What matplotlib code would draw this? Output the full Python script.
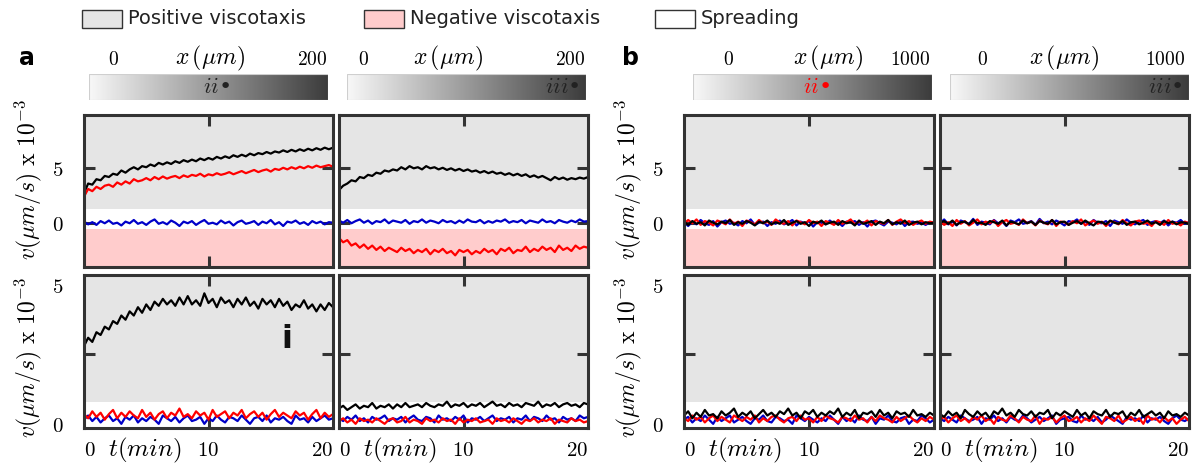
import numpy as np
import matplotlib
matplotlib.use("Agg")
import matplotlib.pyplot as plt
from matplotlib.colors import LinearSegmentedColormap
from matplotlib.patches import Rectangle
from matplotlib.ticker import FixedLocator

plt.rcParams['mathtext.fontset'] = 'cm'

# ---------------- data (velocity x 1e-3 um/s, sampled over 0..20 min) -------------
T_MAX = 20

a_ii_black = [2.7, 3.6, 3.5, 4.0, 3.9, 4.3, 4.2, 4.5, 4.4, 4.8, 4.6, 4.9, 5.1, 4.9, 5.2, 5.1, 5.35, 5.2,
              5.5, 5.35, 5.55, 5.4, 5.65, 5.5, 5.75, 5.6, 5.8, 5.65, 5.9, 5.75, 5.95, 5.8, 6.05, 5.9, 6.1,
              5.95, 6.2, 6.05, 6.25, 6.1, 6.35, 6.2, 6.4, 6.3, 6.5, 6.35, 6.55, 6.45, 6.65, 6.5, 6.7, 6.55,
              6.75, 6.6, 6.8, 6.65, 6.85, 6.7, 6.9, 6.75, 6.9]
a_ii_red = [2.4, 3.1, 2.9, 3.3, 3.1, 3.4, 3.5, 3.3, 3.7, 3.5, 3.8, 3.6, 4.0, 3.8, 3.9, 4.1, 3.9, 4.2, 4.0,
            4.25, 4.05, 4.2, 4.3, 4.1, 4.35, 4.2, 4.4, 4.3, 4.5, 4.25, 4.45, 4.35, 4.55, 4.4, 4.5, 4.65,
            4.45, 4.6, 4.75, 4.55, 4.7, 4.85, 4.65, 4.8, 4.9, 4.7, 4.95, 4.85, 5.05, 4.9, 5.1, 4.95, 5.15,
            5.0, 5.2, 5.05, 5.25, 5.1, 5.2, 5.3, 5.15]
a_ii_blue = [0.1, -0.15, 0.05, -0.2, 0.15, -0.05, 0.2, -0.1, 0.0, -0.25, 0.1, -0.05, 0.25, -0.1, 0.05,
             -0.2, 0.1, 0.3, -0.1, 0.05, -0.15, 0.2, 0.0, -0.3, 0.1, -0.05, 0.15, -0.2, 0.05, 0.25, -0.1,
             0.0, -0.15, 0.2, -0.05, 0.1, -0.25, 0.05, 0.2, -0.1, 0.0, 0.15, -0.2, 0.1, -0.05, 0.25, -0.15,
             0.05, -0.3, 0.1, 0.0, 0.2, -0.1, 0.05, -0.2, 0.15, -0.05, 0.1, -0.15, 0.05, 0.0]

a_iii_black = [3.0, 3.4, 3.6, 3.9, 3.8, 4.2, 4.1, 4.4, 4.3, 4.6, 4.5, 4.8, 4.7, 4.9, 4.8, 5.1, 4.9, 5.2,
               5.0, 5.1, 4.9, 5.2, 5.0, 5.1, 4.9, 5.05, 4.85, 5.0, 4.8, 4.95, 4.75, 4.9, 4.7, 4.8, 4.6,
               4.75, 4.55, 4.7, 4.5, 4.6, 4.4, 4.55, 4.35, 4.5, 4.3, 4.45, 4.2, 4.35, 4.15, 4.3, 4.1, 3.9,
               4.2, 4.0, 4.15, 3.95, 4.1, 4.0, 4.15, 4.05, 4.2]
a_iii_blue = [0.2, 0.0, 0.25, -0.05, 0.15, 0.3, 0.0, 0.2, -0.1, 0.15, 0.05, 0.3, -0.05, 0.2, 0.1, 0.0,
              0.25, -0.1, 0.15, 0.05, 0.3, 0.0, 0.2, 0.1, -0.05, 0.25, 0.05, 0.15, -0.05, 0.2, 0.0, 0.3,
              0.1, 0.05, 0.25, -0.05, 0.15, 0.0, 0.2, 0.1, 0.3, 0.0, 0.15, 0.05, 0.25, -0.05, 0.2, 0.1,
              0.0, 0.3, 0.05, 0.15, -0.05, 0.25, 0.1, 0.0, 0.2, 0.05, 0.3, 0.1, 0.15]
a_iii_red = [-1.4, -1.8, -1.6, -2.1, -1.9, -2.3, -2.0, -2.4, -2.1, -2.5, -2.2, -2.6, -2.3, -2.5, -2.7,
             -2.3, -2.6, -2.4, -2.8, -2.5, -2.7, -2.4, -2.9, -2.5, -2.7, -2.4, -2.8, -2.6, -3.0, -2.5,
             -2.7, -2.5, -2.9, -2.6, -2.8, -2.4, -2.7, -2.5, -2.9, -2.4, -2.6, -2.3, -2.8, -2.5, -2.6,
             -2.2, -2.7, -2.4, -2.6, -2.2, -2.5, -2.3, -2.7, -2.1, -2.5, -2.3, -2.6, -2.1, -2.4, -2.2, -2.3]

a_i_black = [2.8, 3.1, 2.95, 3.3, 3.2, 3.5, 3.4, 3.7, 3.6, 3.9, 3.75, 4.05, 3.9, 4.2, 4.0, 4.3, 4.1, 4.4,
             4.25, 4.5, 4.3, 4.45, 4.25, 4.55, 4.3, 4.6, 4.3, 4.45, 4.25, 4.7, 4.35, 4.5, 4.2, 4.55, 4.35,
             4.45, 4.2, 4.5, 4.3, 4.55, 4.25, 4.4, 4.15, 4.5, 4.3, 4.45, 4.2, 4.5, 4.25, 4.4, 4.1, 4.3,
             4.2, 4.45, 4.15, 4.3, 4.05, 4.3, 4.1, 4.35, 4.2]
a_i_red = [0.35, 0.2, 0.45, 0.25, 0.4, 0.15, 0.35, 0.5, 0.2, 0.4, 0.25, 0.45, 0.3, 0.2, 0.5, 0.25, 0.4,
           0.15, 0.35, 0.45, 0.2, 0.4, 0.3, 0.55, 0.25, 0.35, 0.2, 0.45, 0.3, 0.4, 0.15, 0.5, 0.25, 0.35,
           0.45, 0.2, 0.4, 0.3, 0.5, 0.2, 0.35, 0.45, 0.25, 0.4, 0.15, 0.35, 0.5, 0.25, 0.4, 0.3, 0.2,
           0.45, 0.3, 0.4, 0.15, 0.35, 0.5, 0.2, 0.4, 0.25, 0.35]
a_i_blue = [0.15, 0.3, 0.1, 0.25, 0.05, 0.2, 0.3, 0.1, 0.2, 0.0, 0.25, 0.15, 0.3, 0.05, 0.2, 0.1, 0.25,
            0.15, 0.0, 0.3, 0.2, 0.1, 0.25, 0.05, 0.2, 0.3, 0.1, 0.15, 0.25, 0.0, 0.2, 0.1, 0.3, 0.15,
            0.05, 0.25, 0.2, 0.1, 0.3, 0.15, 0.0, 0.2, 0.25, 0.1, 0.3, 0.05, 0.2, 0.15, 0.25, 0.1, 0.0,
            0.3, 0.15, 0.2, 0.05, 0.25, 0.1, 0.2, 0.3, 0.15, 0.2]

a_iv_black = [0.55, 0.65, 0.5, 0.6, 0.7, 0.55, 0.65, 0.6, 0.75, 0.55, 0.65, 0.6, 0.7, 0.55, 0.7, 0.6,
              0.75, 0.6, 0.65, 0.7, 0.6, 0.75, 0.65, 0.6, 0.7, 0.65, 0.8, 0.6, 0.7, 0.65, 0.75, 0.6, 0.7,
              0.65, 0.75, 0.6, 0.7, 0.8, 0.65, 0.7, 0.6, 0.75, 0.65, 0.7, 0.6, 0.75, 0.7, 0.65, 0.8, 0.6,
              0.7, 0.65, 0.75, 0.6, 0.7, 0.75, 0.65, 0.7, 0.6, 0.75, 0.7]
a_iv_blue = [0.2, 0.1, 0.25, 0.15, 0.3, 0.1, 0.2, 0.05, 0.25, 0.15, 0.2, 0.3, 0.1, 0.2, 0.15, 0.25, 0.05,
             0.2, 0.3, 0.15, 0.1, 0.25, 0.2, 0.05, 0.3, 0.15, 0.2, 0.1, 0.25, 0.15, 0.3, 0.05, 0.2, 0.15,
             0.25, 0.1, 0.2, 0.3, 0.1, 0.2, 0.15, 0.25, 0.05, 0.2, 0.15, 0.3, 0.1, 0.25, 0.2, 0.1, 0.3,
             0.15, 0.2, 0.05, 0.25, 0.15, 0.2, 0.1, 0.3, 0.2, 0.25]
a_iv_red = [0.1, 0.2, 0.05, 0.15, 0.0, 0.2, 0.1, 0.15, 0.05, 0.2, 0.1, 0.0, 0.15, 0.2, 0.05, 0.1, 0.25,
            0.05, 0.15, 0.1, 0.0, 0.2, 0.1, 0.15, 0.05, 0.2, 0.1, 0.15, 0.0, 0.2, 0.05, 0.15, 0.1, 0.2,
            0.05, 0.1, 0.15, 0.0, 0.2, 0.1, 0.15, 0.05, 0.2, 0.1, 0.0, 0.15, 0.1, 0.2, 0.05, 0.15, 0.1,
            0.2, 0.0, 0.15, 0.1, 0.05, 0.2, 0.1, 0.15, 0.05, 0.1]

b_ii_top_black = [0.1, -0.2, 0.15, -0.1, 0.05, -0.25, 0.2, 0.0, -0.15, 0.1, -0.05, 0.25, -0.2, 0.05,
                  -0.1, 0.15, 0.0, -0.25, 0.1, -0.05, 0.2, -0.15, 0.05, -0.1, 0.25, -0.2, 0.0, 0.15, -0.1,
                  0.05, -0.3, 0.1, -0.05, 0.2, -0.15, 0.0, 0.1, -0.2, 0.15, -0.05, 0.05, -0.25, 0.2, -0.1,
                  0.0, 0.15, -0.2, 0.1, -0.05, 0.25, -0.15, 0.05, -0.1, 0.2, -0.2, 0.0, 0.1, -0.15, 0.05,
                  -0.05, 0.0]
b_ii_top_red = [-0.1, 0.25, -0.05, 0.3, -0.2, 0.15, 0.0, -0.25, 0.2, 0.05, -0.15, 0.3, -0.1, 0.1, -0.3,
                0.2, 0.05, -0.15, 0.25, -0.05, 0.1, -0.2, 0.3, 0.0, -0.1, 0.15, -0.25, 0.2, 0.05, -0.15,
                0.25, -0.05, 0.1, -0.3, 0.15, 0.0, -0.2, 0.25, -0.1, 0.05, 0.3, -0.15, 0.1, -0.05, 0.2,
                -0.25, 0.15, 0.0, -0.1, 0.25, -0.2, 0.1, 0.3, -0.05, 0.15, -0.2, 0.05, 0.2, -0.1, 0.1, 0.0]
b_ii_top_blue = [0.05, -0.3, 0.1, -0.15, 0.25, -0.05, -0.2, 0.15, -0.35, 0.05, 0.2, -0.1, 0.0, -0.25,
                 0.15, -0.05, 0.3, -0.2, 0.0, 0.1, -0.3, 0.05, -0.1, 0.2, -0.15, 0.0, 0.25, -0.25, 0.1,
                 -0.05, 0.15, -0.35, 0.05, 0.0, -0.15, 0.2, -0.1, 0.05, -0.3, 0.1, 0.0, 0.15, -0.2, 0.05,
                 -0.35, 0.1, 0.2, -0.05, -0.25, 0.1, 0.0, -0.15, 0.15, -0.3, 0.05, 0.1, -0.1, 0.0, -0.2,
                 0.05, -0.05]

b_iii_top_black = [0.0, 0.15, -0.1, 0.2, -0.2, 0.05, 0.1, -0.15, 0.25, -0.05, 0.0, -0.2, 0.15, 0.05,
                   -0.1, 0.2, -0.25, 0.1, 0.0, -0.15, 0.2, -0.05, 0.1, -0.2, 0.15, 0.0, -0.1, 0.25, -0.15,
                   0.05, 0.1, -0.2, 0.0, 0.15, -0.1, 0.2, -0.05, -0.25, 0.1, 0.05, -0.15, 0.2, 0.0, -0.1,
                   0.15, -0.2, 0.05, 0.1, -0.15, 0.0, 0.2, -0.1, 0.05, -0.2, 0.15, -0.05, 0.1, -0.15, 0.05,
                   0.0, -0.1]
b_iii_top_red = [0.2, -0.2, 0.05, -0.3, 0.25, -0.1, 0.15, -0.25, 0.0, 0.3, -0.15, 0.1, -0.05, 0.2, -0.3,
                 0.05, 0.25, -0.1, 0.0, -0.2, 0.3, -0.05, 0.1, -0.25, 0.2, 0.0, -0.15, 0.25, -0.3, 0.1,
                 0.05, -0.2, 0.15, -0.05, 0.3, -0.25, 0.0, 0.2, -0.1, 0.1, -0.3, 0.15, 0.05, -0.15, 0.25,
                 -0.05, -0.25, 0.1, 0.2, -0.1, 0.0, -0.3, 0.15, 0.05, -0.2, 0.25, -0.1, 0.0, -0.25, 0.1,
                 -0.05]
b_iii_top_blue = [-0.05, 0.3, -0.15, 0.1, -0.25, 0.2, 0.05, -0.1, 0.35, -0.2, 0.1, 0.0, -0.15, 0.25,
                  -0.05, 0.1, -0.3, 0.2, 0.05, 0.3, -0.1, 0.0, 0.15, -0.2, 0.35, -0.05, 0.1, -0.15, 0.2,
                  0.0, -0.25, 0.15, 0.05, 0.3, -0.1, 0.1, -0.2, 0.25, 0.0, -0.05, 0.15, -0.3, 0.2, 0.05,
                  -0.1, 0.3, 0.0, -0.15, 0.1, 0.25, -0.2, 0.05, 0.15, -0.05, 0.2, -0.25, 0.1, 0.0, 0.25,
                  -0.1, 0.05]

b_ii_bot_black = [0.3, 0.45, 0.2, 0.4, 0.25, 0.5, 0.3, 0.35, 0.2, 0.45, 0.3, 0.4, 0.55, 0.25, 0.4, 0.3,
                  0.45, 0.2, 0.35, 0.5, 0.3, 0.4, 0.25, 0.45, 0.35, 0.55, 0.3, 0.4, 0.2, 0.45, 0.35, 0.5,
                  0.25, 0.4, 0.3, 0.45, 0.35, 0.55, 0.25, 0.4, 0.3, 0.5, 0.2, 0.4, 0.35, 0.45, 0.25, 0.5,
                  0.3, 0.4, 0.2, 0.45, 0.35, 0.4, 0.25, 0.5, 0.3, 0.35, 0.25, 0.4, 0.3]
b_ii_bot_red = [0.2, 0.1, 0.3, 0.15, 0.25, 0.05, 0.2, 0.3, 0.1, 0.25, 0.15, 0.05, 0.3, 0.2, 0.1, 0.25,
                0.15, 0.3, 0.05, 0.2, 0.1, 0.25, 0.3, 0.15, 0.05, 0.2, 0.25, 0.1, 0.3, 0.15, 0.2, 0.05,
                0.25, 0.1, 0.3, 0.2, 0.15, 0.05, 0.25, 0.2, 0.1, 0.3, 0.15, 0.2, 0.05, 0.25, 0.1, 0.3, 0.2,
                0.15, 0.05, 0.25, 0.1, 0.2, 0.3, 0.15, 0.05, 0.2, 0.1, 0.25, 0.15]
b_ii_bot_blue = [0.15, 0.25, 0.05, 0.2, 0.1, 0.3, 0.15, 0.0, 0.25, 0.1, 0.2, 0.3, 0.05, 0.15, 0.25, 0.1,
                 0.0, 0.2, 0.15, 0.3, 0.1, 0.05, 0.25, 0.2, 0.1, 0.15, 0.0, 0.3, 0.2, 0.1, 0.25, 0.15,
                 0.05, 0.2, 0.1, 0.3, 0.15, 0.0, 0.25, 0.1, 0.2, 0.05, 0.3, 0.15, 0.1, 0.25, 0.0, 0.2,
                 0.15, 0.3, 0.1, 0.05, 0.2, 0.25, 0.0, 0.15, 0.1, 0.3, 0.2, 0.05, 0.15]

b_iii_bot_black = [0.35, 0.25, 0.45, 0.3, 0.4, 0.2, 0.5, 0.35, 0.25, 0.45, 0.3, 0.4, 0.2, 0.45, 0.35,
                   0.55, 0.3, 0.4, 0.25, 0.5, 0.35, 0.3, 0.45, 0.25, 0.4, 0.35, 0.5, 0.2, 0.4, 0.3, 0.45,
                   0.35, 0.25, 0.5, 0.3, 0.4, 0.2, 0.45, 0.35, 0.3, 0.5, 0.25, 0.4, 0.35, 0.45, 0.2, 0.4,
                   0.3, 0.5, 0.25, 0.35, 0.45, 0.3, 0.4, 0.2, 0.45, 0.3, 0.35, 0.25, 0.4, 0.3]
b_iii_bot_red = [0.15, 0.25, 0.05, 0.2, 0.3, 0.1, 0.2, 0.05, 0.25, 0.15, 0.3, 0.1, 0.2, 0.0, 0.25, 0.15,
                 0.1, 0.3, 0.2, 0.05, 0.25, 0.15, 0.1, 0.3, 0.0, 0.2, 0.15, 0.25, 0.05, 0.2, 0.3, 0.1,
                 0.15, 0.25, 0.05, 0.2, 0.1, 0.3, 0.15, 0.0, 0.25, 0.2, 0.1, 0.3, 0.05, 0.15, 0.25, 0.1,
                 0.2, 0.0, 0.3, 0.15, 0.2, 0.05, 0.25, 0.1, 0.2, 0.0, 0.15, 0.25, 0.1]
b_iii_bot_blue = [0.2, 0.1, 0.25, 0.15, 0.05, 0.3, 0.2, 0.1, 0.15, 0.25, 0.0, 0.2, 0.15, 0.3, 0.1, 0.2,
                  0.05, 0.25, 0.15, 0.1, 0.3, 0.2, 0.05, 0.15, 0.25, 0.1, 0.2, 0.3, 0.0, 0.15, 0.2, 0.25,
                  0.1, 0.05, 0.3, 0.15, 0.2, 0.1, 0.25, 0.05, 0.15, 0.3, 0.2, 0.1, 0.0, 0.25, 0.15, 0.2,
                  0.1, 0.3, 0.05, 0.2, 0.15, 0.25, 0.1, 0.0, 0.2, 0.3, 0.15, 0.1, 0.2]

legend_labels = ["Positive viscotaxis", "Negative viscotaxis", "Spreading"]
bar_ranges = ["200", "200", "1000", "1000"]
bar_markers = [r"$ii$•", r"$iii$•", r"$ii$•", r"$iii$•"]

# ---------------- style ----------------
RED, BLUE, BLACK = "#ff0000", "#0000c8", "#000000"
GRAY_BG, PINK_BG = "#e5e5e5", "#ffcccc"
SPINE = "#333333"

W, H = 1197, 466
fig = plt.figure(figsize=(W / 100, H / 100), dpi=100)


def add_px_axes(x0, y0, x1, y1):
    return fig.add_axes([x0 / W, 1 - y1 / H, (x1 - x0) / W, (y1 - y0) / H])


def ftext(x, y, s, **kw):
    fig.text(x / W, 1 - y / H, s, **kw)


ROWS = {
    "top": dict(y0=115, y1=267, ylim=(-4.07, 9.9), gray=1.25, pink=-0.6),
    "bot": dict(y0=275, y1=428, ylim=(-0.15, 5.36), gray=0.77, pink=None),
}
COLS = [(84, 333), (339, 588), (684, 934), (940, 1189)]

panels = [
    (0, "top", [(a_ii_black, BLACK), (a_ii_red, RED), (a_ii_blue, BLUE)]),
    (1, "top", [(a_iii_black, BLACK), (a_iii_blue, BLUE), (a_iii_red, RED)]),
    (0, "bot", [(a_i_black, BLACK), (a_i_blue, BLUE), (a_i_red, RED)]),
    (1, "bot", [(a_iv_black, BLACK), (a_iv_blue, BLUE), (a_iv_red, RED)]),
    (2, "top", [(b_ii_top_blue, BLUE), (b_ii_top_red, RED), (b_ii_top_black, BLACK)]),
    (3, "top", [(b_iii_top_blue, BLUE), (b_iii_top_red, RED), (b_iii_top_black, BLACK)]),
    (2, "bot", [(b_ii_bot_blue, BLUE), (b_ii_bot_red, RED), (b_ii_bot_black, BLACK)]),
    (3, "bot", [(b_iii_bot_blue, BLUE), (b_iii_bot_red, RED), (b_iii_bot_black, BLACK)]),
]

for ci, row, series in panels:
    x0, x1 = COLS[ci]
    r = ROWS[row]
    ax = add_px_axes(x0, r["y0"], x1, r["y1"])
    ax.set_xlim(0, T_MAX)
    ax.set_ylim(*r["ylim"])
    ax.axhspan(r["gray"], r["ylim"][1] + 5, color=GRAY_BG, lw=0, zorder=0)
    if r["pink"] is not None:
        ax.axhspan(r["ylim"][0] - 5, r["pink"], color=PINK_BG, lw=0, zorder=0)
    for vals, col in series:
        t = np.linspace(0, T_MAX, len(vals))
        ax.plot(t, vals, color=col, lw=1.6, zorder=2)
    for sp in ax.spines.values():
        sp.set_color(SPINE)
        sp.set_linewidth(2.2)
        sp.set_zorder(5)
    ax.set_xticks([10])
    ax.set_xticklabels([])
    if row == "top":
        ax.set_yticks([0, 5])
        ax.tick_params(axis="y", length=8)
    else:
        ax.set_yticks([0, 5])
        ax.yaxis.set_minor_locator(FixedLocator([2.5]))
        ax.tick_params(axis="y", which="major", length=0)
        ax.tick_params(axis="y", which="minor", length=8, width=2.2, color=SPINE,
                       direction="in", left=True, right=True)
    ax.set_yticklabels(["$0$", "$5$"])
    ax.tick_params(axis="both", which="major", direction="in", width=2.2, color=SPINE,
                   top=True, right=True, labelsize=15, pad=15)
    ax.tick_params(axis="x", length=8)
    if ci in (1, 3):
        ax.set_yticklabels([])
    if row == "bot":
        yb = 450
        ftext(x0 + 6, yb, "$0$", fontsize=15, ha="center", va="center")
        ftext(x0 + 61, yb, "$t(min)$", fontsize=18, ha="center", va="center")
        ftext((x0 + x1) / 2, yb, "$10$", fontsize=15, ha="center", va="center")
        ftext(x1 - 11, yb, "$20$", fontsize=15, ha="center", va="center")
    if ci == 0 and row == "bot":
        ax.text(16.3, 3.05, "i", fontsize=23, fontweight="bold", ha="center", va="center",
                family="DejaVu Sans", color="#111111", zorder=6)

# y labels
ylab = r"$v(\mu m/s)\ \mathrm{x}\ 10^{-3}$"
for xc in (28, 628):
    ftext(xc, 180, ylab, fontsize=17, rotation=90, ha="center", va="center")
    ftext(xc, 358, ylab, fontsize=17, rotation=90, ha="center", va="center")

# gradient bars
cmap = LinearSegmentedColormap.from_list("grad", ["#f8f8f8", "#3c3c3c"])
grad = np.linspace(0, 1, 256)[None, :]
bars = [(89, 328), (347, 586), (693, 932), (950, 1189)]
zero_x = [113, 363, 728, 982]
mid_x = [210, 448, 828, 1064]
end_x = [312, 570, 910, 1165]
mark_x = [217, 562, 817, 1165]
mark_col = ["#222222", "#222222", RED, "#222222"]
for i, (bx0, bx1) in enumerate(bars):
    bax = add_px_axes(bx0, 74, bx1, 100)
    bax.imshow(grad, aspect="auto", cmap=cmap, extent=[0, 1, 0, 1])
    bax.set_axis_off()
    bax.add_patch(Rectangle((0, 0), 1, 1, transform=bax.transAxes, fill=False,
                            edgecolor="#cfcfcf", lw=0.8))
    ftext(zero_x[i], 60, "$0$", fontsize=14, ha="center", va="center")
    ftext(mid_x[i], 58, r"$x\,(\mu m)$", fontsize=17, ha="center", va="center")
    ftext(end_x[i], 60, "$" + bar_ranges[i] + "$", fontsize=14, ha="center", va="center")
    ftext(mark_x[i], 87, bar_markers[i], fontsize=16, ha="center", va="center",
          color=mark_col[i], family="DejaVu Sans")

# panel letters
ftext(27, 58, "a", fontsize=17, fontweight="bold", ha="center", va="center", family="DejaVu Sans")
ftext(630, 58, "b", fontsize=17, fontweight="bold", ha="center", va="center", family="DejaVu Sans")

# legend
leg_boxes = [(82, GRAY_BG), (364, PINK_BG), (655, "#ffffff")]
for (lx, fc), lab in zip(leg_boxes, legend_labels):
    fig.add_artist(Rectangle((lx / W, 1 - 28 / H), 40 / W, 18 / H, transform=fig.transFigure,
                             facecolor=fc, edgecolor=SPINE, lw=1.0))
    ftext(lx + 46, 19, lab, fontsize=14, ha="left", va="center", family="DejaVu Sans",
          color="#222222")

fig.savefig("out.png", dpi=100)
